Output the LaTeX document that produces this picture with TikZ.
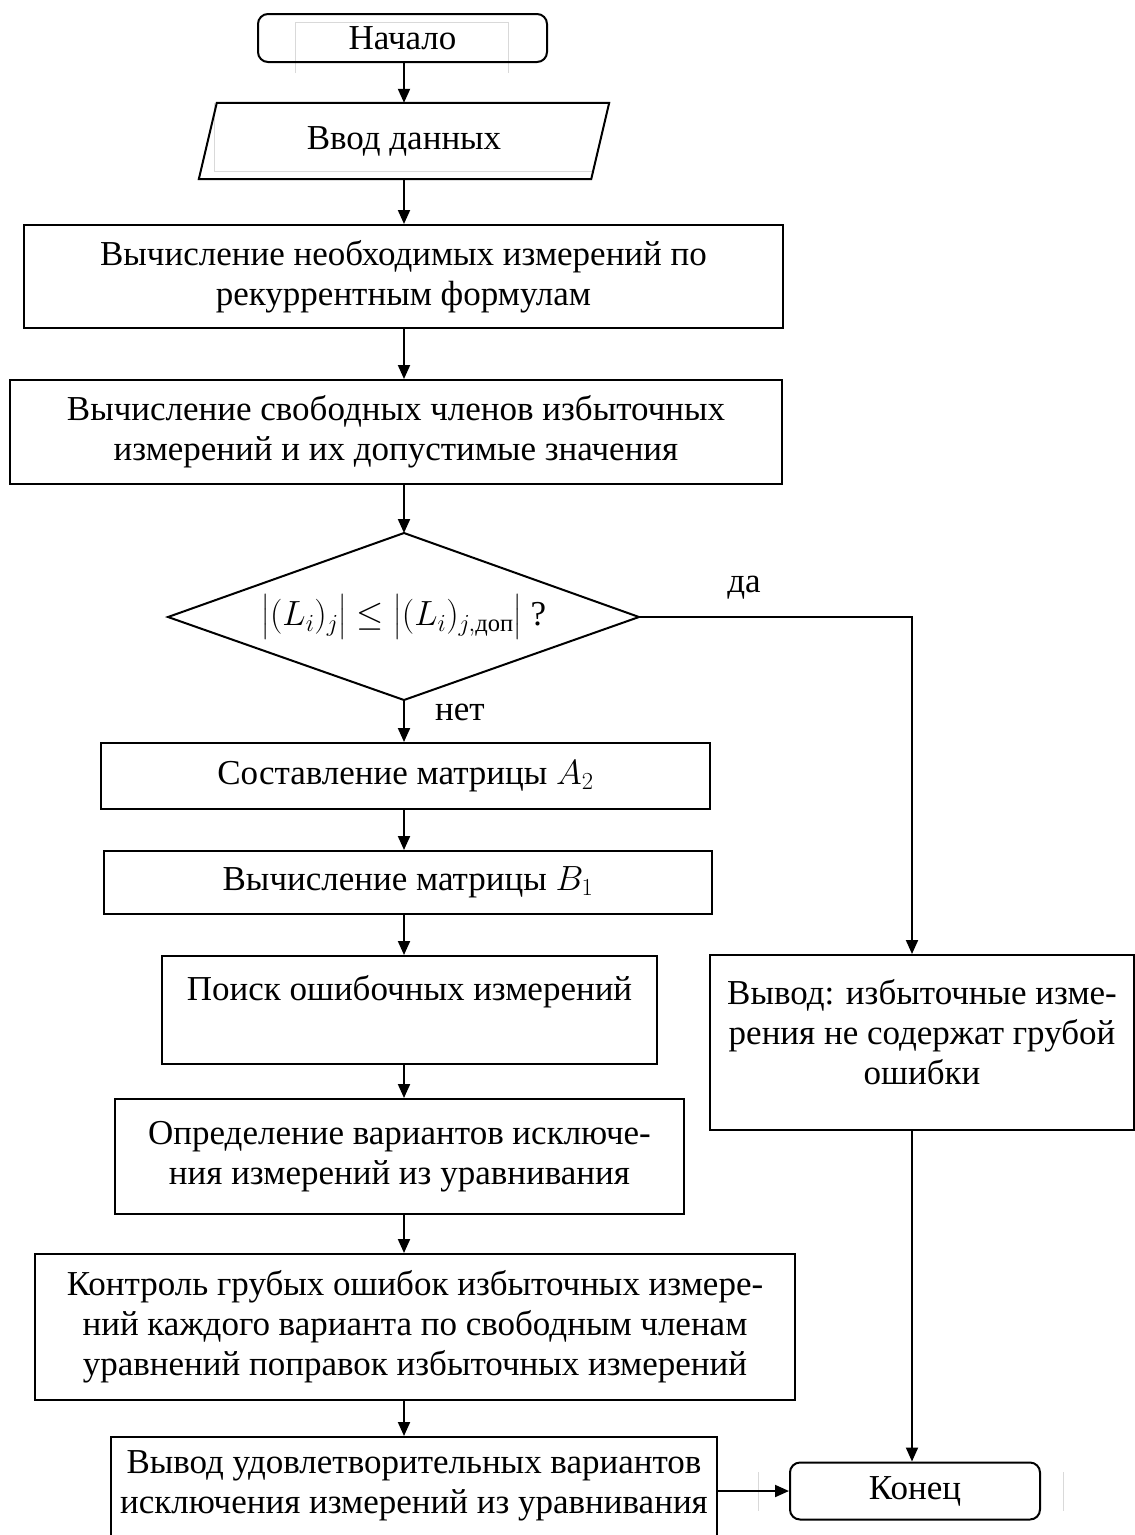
\RequirePackage{fix-cm}
\documentclass[tikz,border=0pt]{standalone}
\usepackage{amsmath}
\usepackage{fontspec}
\setmainfont{Liberation Serif}
\usetikzlibrary{arrows.meta}
\begin{document}
\begin{tikzpicture}[x=1pt,y=-1pt,
  every node/.style={font=\fontsize{35}{40}\selectfont, inner sep=0pt, align=center},
  line/.style={line width=2pt},
  arr/.style={line width=2pt, -{Triangle[length=14pt,width=12pt]}},
  box/.style={draw, line width=2pt, rectangle},
  term/.style={box, rounded corners=10pt},
  faint/.style={draw=black!15, line width=1pt}]
\useasboundingbox (0,0) rectangle (1135,1535);
\clip (0,0) rectangle (1135,1535);

% text frames left visible around the terminals and the input block
\draw[faint] (295,73) -- (295,22) -- (508,22) -- (508,73);
\draw[faint] (214,103) -- (214,171) -- (592,171);
\draw[faint] (758,1472) -- (758,1511);
\draw[faint] (1063,1472) -- (1063,1511);

% main column
\node[term, minimum width=289pt, minimum height=48pt] (start) at (402.5,38) {Начало};
\node[minimum width=392pt, minimum height=76pt] (io) at (404,141) {Ввод данных};
\draw[line] ([xshift=9pt]io.north west) -- ([xshift=9pt]io.north east)
  -- ([xshift=-9pt]io.south east) -- ([xshift=-9pt]io.south west) -- cycle;
\node[box, minimum width=759pt, minimum height=103pt] (calc1) at (403.5,276.5)
  {Вычисление необходимых измерений по\\рекуррентным формулам};
\node[box, minimum width=772pt, minimum height=104pt] (calc2) at (396,432)
  {Вычисление свободных членов избыточных\\измерений и их допустимые значения};

% decision
\coordinate (dtop) at (404,533);
\coordinate (dbot) at (404,700);
\coordinate (dleft) at (168,617);
\coordinate (dright) at (639,617);
\draw[line] (dtop) -- (dright) -- (dbot) -- (dleft) -- cycle;
\node (dec) at (404,617)
  {$\bigl|(L_i)_j\bigr| \le \bigl|(L_i)_{j,\text{доп}}\bigr|$ ?};
\node (yes) at (744,588) {да};
\node (no) at (460,712) {нет};

\node[box, minimum width=609pt, minimum height=66pt] (matA) at (405.5,776)
  {Составление матрицы $A_2$};
\node[box, minimum width=608pt, minimum height=63pt] (matB) at (408,882.5)
  {Вычисление матрицы $B_1$};
\node[box, minimum width=495pt, minimum height=108pt] (find) at (409.5,1010) {};
\node (findt) at (409.5,992) {Поиск ошибочных измерений};
\node[box, minimum width=569pt, minimum height=115pt] (vars) at (399.5,1156.5)
  {Определение вариантов исключе-\\ния измерений из уравнивания};
\node[box, minimum width=760pt, minimum height=146pt] (ctrl) at (415,1327)
  {Контроль грубых ошибок избыточных измере-\\ний каждого варианта по свободным членам\\уравнений поправок избыточных измерений};
\node[box, minimum width=606pt, minimum height=108pt] (outv) at (414,1491) {};
\node (outvt) at (414,1486)
  {Вывод удовлетворительных вариантов\\исключения измерений из уравнивания};

% right branch
\node[box, minimum width=424pt, minimum height=175pt] (rbox) at (922,1042.5) {};
\node (rtext) at (922,1032)
  {Вывод: избыточные изме-\\рения не содержат грубой\\ошибки};
\node[term, minimum width=250pt, minimum height=57pt] (endn) at (915,1491) {Конец};

% connectors
\coordinate (axis) at (404,0);
\coordinate (corner) at (912,617);
\draw[arr] (start.south -| axis) -- (io.north -| axis);
\draw[arr] (io.south -| axis) -- (calc1.north -| axis);
\draw[arr] (calc1.south -| axis) -- (calc2.north -| axis);
\draw[arr] (calc2.south -| axis) -- (dtop);
\draw[arr] (dbot) -- (matA.north -| dbot);
\draw[arr] (matA.south -| axis) -- (matB.north -| axis);
\draw[arr] (matB.south -| axis) -- (find.north -| axis);
\draw[arr] (find.south -| axis) -- (vars.north -| axis);
\draw[arr] (vars.south -| axis) -- (ctrl.north -| axis);
\draw[arr] (ctrl.south -| axis) -- (outv.north -| axis);
\draw[arr] (dright) -- (corner) -- (corner |- rbox.north);
\draw[arr] (rbox.south -| corner) -- (corner |- endn.north);
\draw[arr] (outv.east |- endn.west) -- (endn.west);
\end{tikzpicture}
\end{document}
